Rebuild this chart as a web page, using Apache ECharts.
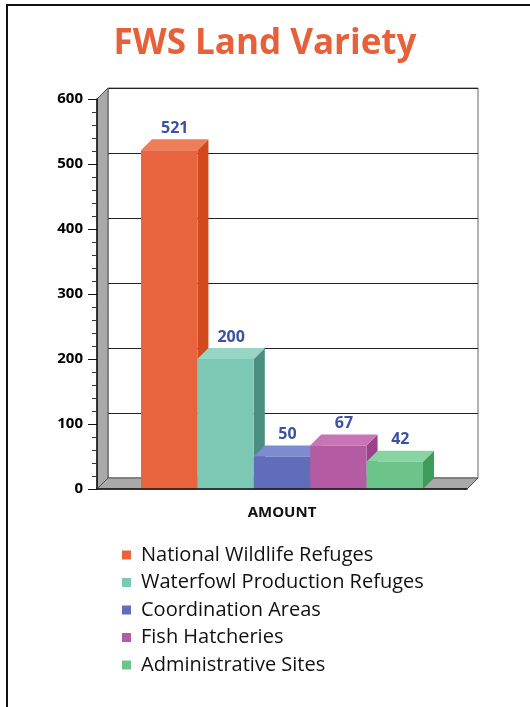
<!DOCTYPE html>
<html lang="en">
<head>
    <meta charset="UTF-8">
    <title>FWS Land Variety</title>
    <script src="https://cdn.jsdelivr.net/npm/echarts@6/dist/echarts.min.js"></script>
    <style>
        html, body { margin: 0; padding: 0; background: #fff; }
        #chart { width: 530px; height: 707px; }
    </style>
</head>
<body>
<div id="chart"></div>
<script>
    // data
    var categories = ['AMOUNT'];
    var names = ['National Wildlife Refuges', 'Waterfowl Production Refuges', 'Coordination Areas', 'Fish Hatcheries', 'Administrative Sites'];
    var values = [521, 200, 50, 67, 42];
    var yMin = 0, yMax = 600, yStep = 100;

    // front / top / side colours of each bar
    var fronts = ['#E8643F', '#7DC7B5', '#5F6DBB', '#B35CA3', '#6CC48A'];
    var tops   = ['#EE7D58', '#97D5C5', '#7D8BD1', '#C676B7', '#88D3A1'];
    var sides  = ['#D04A1E', '#4A8E82', '#4C59A6', '#9C4289', '#3E9B59'];

    var DEPTH = 11;        // 3d offset in px
    var GROUP = 0.762;     // share of the band used by all bars

    function barItem(params, api) {
        var i = api.value(2);
        var top = api.coord([api.value(0), api.value(1)]);
        var base = api.coord([api.value(0), 0]);
        var band = api.size([1, 0])[0];
        var bw = band * GROUP / names.length;
        var x0 = top[0] - band * GROUP / 2 + i * bw;
        var x1 = x0 + bw;
        var yt = top[1], yb = base[1];
        return {
            type: 'group',
            children: [
                { type: 'polygon', shape: { points: [[x1, yb], [x1 + DEPTH, yb - DEPTH], [x1 + DEPTH, yt - DEPTH], [x1, yt]] },
                  style: { fill: sides[i] } },
                { type: 'polygon', shape: { points: [[x0, yt], [x0 + DEPTH, yt - DEPTH], [x1 + DEPTH, yt - DEPTH], [x1, yt]] },
                  style: { fill: tops[i] } },
                { type: 'rect', shape: { x: x0, y: yt, width: bw, height: yb - yt },
                  style: { fill: fronts[i] } },
                { type: 'text',
                  style: { text: String(api.value(1)), x: (x0 + x1 + DEPTH) / 2, y: yt - DEPTH - 3,
                           textAlign: 'center', textVerticalAlign: 'bottom', align: 'center', verticalAlign: 'bottom',
                           fill: '#3A52A0', font: 'bold 16px "Open Sans", sans-serif' } }
            ]
        };
    }

    // gray left wall and floor
    function frameItem(params, api) {
        var cs = params.coordSys;
        var l = cs.x, t = cs.y, r = cs.x + cs.width, b = cs.y + cs.height;
        var st = { fill: '#A9A9A9', stroke: '#555', lineWidth: 1 };
        return {
            type: 'group',
            children: [
                { type: 'polygon', shape: { points: [[l, t], [l + DEPTH, t - DEPTH], [l + DEPTH, b - DEPTH], [l, b]] }, style: st },
                { type: 'polygon', shape: { points: [[l, b], [l + DEPTH, b - DEPTH], [r + DEPTH, b - DEPTH], [r, b]] }, style: st }
            ]
        };
    }

    var series = [{
        type: 'custom',
        name: 'frame',
        xAxisIndex: 0, yAxisIndex: 0,
        z: 1,
        silent: true,
        renderItem: frameItem,
        data: [[0, 0]]
    }];
    for (var i = 0; i < names.length; i++) {
        series.push({
            type: 'custom',
            name: names[i],
            xAxisIndex: 0, yAxisIndex: 0,
            z: 2,
            itemStyle: { color: fronts[i] },
            renderItem: barItem,
            encode: { x: 0, y: 1 },
            data: [[0, values[i], i]]
        });
    }

    var option = {
        backgroundColor: '#fff',
        animation: false,
        title: {
            text: 'FWS Land Variety',
            left: 'center',
            top: 22,
            textStyle: { color: '#E8603A', fontSize: 35, fontWeight: 'bold', fontFamily: '"Open Sans", sans-serif' }
        },
        legend: {
            data: names,
            orient: 'vertical',
            left: 117,
            top: 540,
            itemWidth: 9,
            itemHeight: 9,
            itemGap: 7.5,
            icon: 'rect',
            textStyle: { color: '#111', fontSize: 20, lineHeight: 19, fontFamily: '"Open Sans", sans-serif', padding: [0, 0, 0, 5] }
        },
        grid: [
            { left: 97, right: 63, top: 99, bottom: 218 },                // front plane
            { left: 108, right: 52, top: 88, bottom: 229, show: true,    // back wall
              borderColor: '#666', borderWidth: 1, backgroundColor: '#fff' }
        ],
        xAxis: [
            { type: 'category', gridIndex: 0, data: categories, z: 5,
              axisLine: { lineStyle: { color: '#111', width: 1.5 } },
              axisTick: { length: 11, lineStyle: { color: '#555' } },
              axisLabel: { margin: 16, color: '#111', fontSize: 15, fontWeight: 'bold', fontFamily: '"Open Sans", sans-serif' } },
            { type: 'category', gridIndex: 1, data: categories, show: false }
        ],
        yAxis: [
            { type: 'value', gridIndex: 0, min: yMin, max: yMax, interval: yStep, z: 5,
              axisLine: { show: true, lineStyle: { color: '#111', width: 1.5 } },
              axisTick: { show: true, length: 9, lineStyle: { color: '#111' } },
              minorTick: { show: true, splitNumber: 5, length: 5, lineStyle: { color: '#333' } },
              splitLine: { show: false },
              axisLabel: { margin: 14, color: '#000', fontSize: 15, fontWeight: 'bold', fontFamily: '"Open Sans", sans-serif' } },
            { type: 'value', gridIndex: 1, min: yMin, max: yMax, interval: yStep,
              axisLine: { show: false }, axisTick: { show: false }, axisLabel: { show: false },
              splitLine: { show: true, lineStyle: { color: '#222', width: 1 } } }
        ],
        graphic: [
            { type: 'polyline', silent: true, shape: { points: [[7, 707], [7, 5], [530, 5]] },
              style: { stroke: '#111', lineWidth: 2, fill: null } }
        ],
        series: series
    };

    var myChart = echarts.init(document.getElementById('chart'));
    myChart.setOption(option);
</script>
</body>
</html>
